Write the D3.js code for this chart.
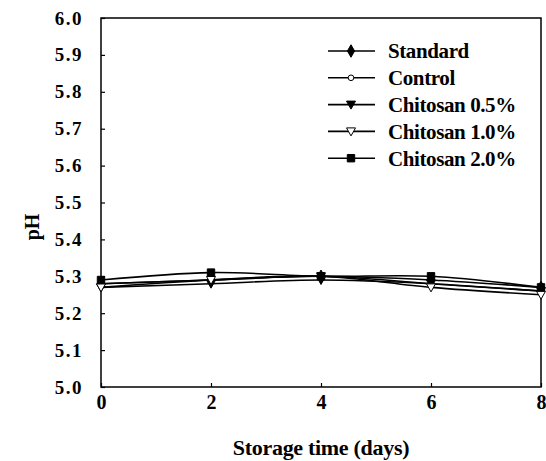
<!DOCTYPE html>
<html>
<head>
<meta charset="utf-8">
<script src="https://cdn.jsdelivr.net/npm/d3@7"></script>
<style>
  body { margin: 0; background: #fff; }
  svg text { font-family: "Liberation Serif", "Times New Roman", serif; font-weight: bold; fill: #000; }
</style>
</head>
<body>
<svg id="chart" width="546" height="461"></svg>
<script>
// storage days and pH readings
const days = [0, 2, 4, 6, 8];
const standard = [5.28, 5.29, 5.30, 5.29, 5.27];
const control = [5.28, 5.29, 5.30, 5.28, 5.26];
const chitosan05 = [5.27, 5.28, 5.29, 5.28, 5.26];
const chitosan10 = [5.27, 5.29, 5.30, 5.27, 5.25];
const chitosan20 = [5.29, 5.31, 5.30, 5.30, 5.27];
const yTicks = [5.0, 5.1, 5.2, 5.3, 5.4, 5.5, 5.6, 5.7, 5.8, 5.9, 6.0];
const xTicks = [0, 2, 4, 6, 8];

const series = [
    {name: "Standard", values: standard, shape: "diamond", fill: "#000"},
    {name: "Control", values: control, shape: "circle", fill: "#fff"},
    {name: "Chitosan 0.5%", values: chitosan05, shape: "down", fill: "#000"},
    {name: "Chitosan 1.0%", values: chitosan10, shape: "down", fill: "#fff"},
    {name: "Chitosan 2.0%", values: chitosan20, shape: "square", fill: "#000"}
];

const svg = d3.select("#chart");
const margin = {top: 18, right: 5, bottom: 74, left: 101};
const width = 546 - margin.left - margin.right,
    height = 461 - margin.top - margin.bottom;
const g = svg.append("g").attr("transform", "translate(" + margin.left + "," + margin.top + ")");

const x = d3.scaleLinear().domain([0, 8]).range([0, width]);
const y = d3.scaleLinear().domain([5.0, 6.0]).range([height, 0]);

// frame
g.append("rect")
    .attr("width", width)
    .attr("height", height)
    .attr("fill", "none")
    .attr("stroke", "#000")
    .attr("stroke-width", 1.5);

const yAxis = g.append("g")
    .call(d3.axisLeft(y).tickValues(yTicks).tickSize(-4).tickPadding(18).tickFormat(d3.format(".1f")));
yAxis.select(".domain").remove();
yAxis.selectAll("text").attr("font-size", 19).attr("letter-spacing", 1.5);
yAxis.selectAll("line").attr("stroke-width", 1.2);

const xAxis = g.append("g")
    .attr("transform", "translate(0," + height + ")")
    .call(d3.axisBottom(x).tickValues(xTicks).tickSize(-4).tickPadding(8).tickFormat(d3.format("d")));
xAxis.select(".domain").remove();
xAxis.selectAll("text").attr("font-size", 20);
xAxis.selectAll("line").attr("stroke-width", 1.2);

const line = d3.line()
    .x((d, i) => x(days[i]))
    .y(d => y(d))
    .curve(d3.curveCatmullRom);

function symbolPath(shape) {
    if (shape === "diamond") return d3.symbol(d3.symbolDiamond, 45)();
    if (shape === "circle") return d3.symbol(d3.symbolCircle, 25)();
    if (shape === "square") return d3.symbol(d3.symbolSquare, 55)();
    return "M-4.5,-3.5L4.5,-3.5L0,4.5Z";
}

series.forEach(s => {
    g.append("path")
        .datum(s.values)
        .attr("fill", "none")
        .attr("stroke", "#000")
        .attr("stroke-width", 1.6)
        .attr("d", line);
});

series.forEach(s => {
    g.selectAll(null)
        .data(s.values)
        .enter().append("path")
        .attr("transform", (d, i) => "translate(" + x(days[i]) + "," + y(d) + ")")
        .attr("d", symbolPath(s.shape))
        .attr("fill", s.fill)
        .attr("stroke", "#000")
        .attr("stroke-width", 1);
});

// legend
const legend = svg.append("g").attr("transform", "translate(328,51)");
series.forEach((s, i) => {
    const row = legend.append("g").attr("transform", "translate(0," + (i * 26.8) + ")");
    row.append("line")
        .attr("x1", 0).attr("x2", 47)
        .attr("stroke", "#000").attr("stroke-width", 1.6);
    row.append("path")
        .attr("transform", "translate(23,0)")
        .attr("d", symbolPath(s.shape))
        .attr("fill", s.fill)
        .attr("stroke", "#000")
        .attr("stroke-width", 1);
    row.append("text")
        .attr("x", 60)
        .attr("dy", "0.35em")
        .attr("font-size", 21)
        .attr("letter-spacing", -0.4)
        .text(s.name);
});

svg.append("text")
    .attr("x", margin.left + width / 2)
    .attr("y", 455)
    .attr("text-anchor", "middle")
    .attr("font-size", 22)
    .attr("letter-spacing", -0.3)
    .text("Storage time (days)");

svg.append("text")
    .attr("transform", "translate(39,227) rotate(-90)")
    .attr("text-anchor", "middle")
    .attr("font-size", 20)
    .text("pH");
</script>
</body>
</html>
